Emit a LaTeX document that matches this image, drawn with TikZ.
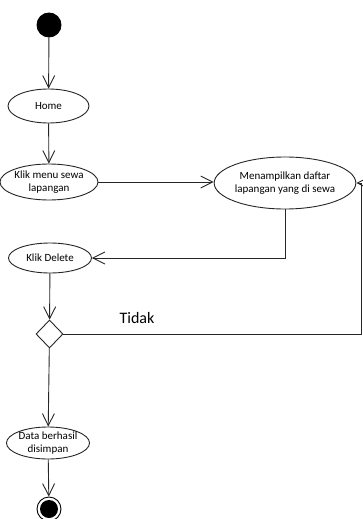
\documentclass[tikz,border=0pt]{standalone}
\usepackage{fontspec}
\setmainfont{Carlito}
\usetikzlibrary{shapes.geometric,arrows.meta}
\begin{document}
\begin{tikzpicture}[x=1pt,y=-1pt,line width=0.9pt,
  flow/.style={draw=black!85,-{Straight Barb[length=12pt,width=12pt,line width=0.9pt]}},
  act/.style={ellipse,draw=black!85,inner sep=0pt,font=\fontsize{11}{13}\selectfont,align=center},
  decision/.style={diamond,draw=black!85,inner sep=0pt,minimum width=27pt,minimum height=28pt},
  initial/.style={circle,fill=black,draw=black,inner sep=0pt,minimum size=24pt},
  final/.style={circle,draw=black,inner sep=0pt,minimum size=24pt,
    path picture={\fill[black] (path picture bounding box.center) circle (9pt);}}]
\useasboundingbox (0,0) rectangle (363,519);

% activity nodes
\node[initial] (start) at (49,25) {};
\node[act,minimum width=81pt,minimum height=34pt] (home) at (48.5,106) {Home};
\node[act,minimum width=84pt,minimum height=36pt] (klik) at (49,182) {Klik menu sewa\\lapangan};
\node[act,minimum width=116pt,minimum height=52pt] (tampil) at (285,183) {Menampilkan daftar\\lapangan yang di sewa};
\node[act,minimum width=83pt,minimum height=30pt] (delete) at (50,258) {Klik Delete};
\node[decision] (dec) at (49.5,334) {};
\node[act,minimum width=81pt,minimum height=32pt] (data) at (48,443) {Data berhasil\\disimpan};
\node[final] (end) at (49,509) {};
\node[font=\fontsize{16}{18}\selectfont] (tidak) at (137,318) {Tidak};
\coordinate (rx) at (361,0);

% transitions
\draw[flow] (start) -- (home);
\draw[flow] (home) -- (klik);
\draw[flow] (klik.east) -- (klik.east -| tampil.west);
\draw[flow] (tampil.south) |- (delete.east);
\draw[flow] (delete) -- (dec);
\draw[flow] (dec.east) -- (dec.east -| rx) |- (tampil.east);
\draw[flow] (dec) -- (data);
\draw[flow] (data) -- (end);
\end{tikzpicture}
\end{document}
